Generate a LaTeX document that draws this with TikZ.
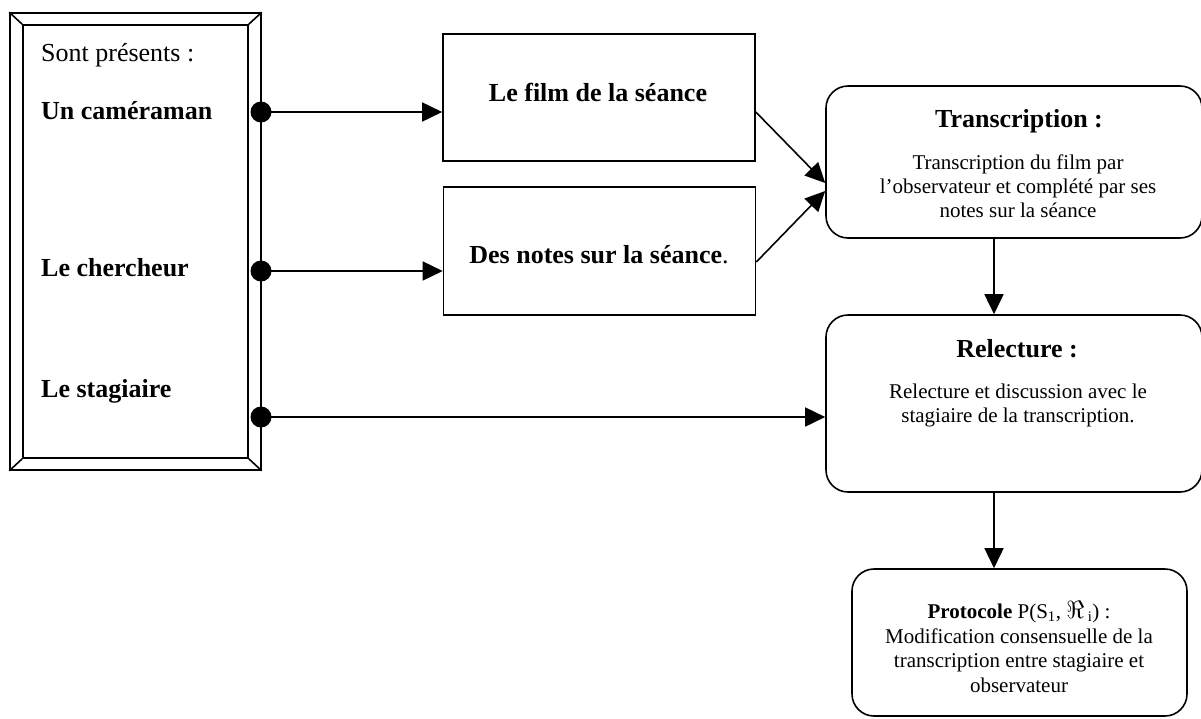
\documentclass[tikz,border=0pt]{standalone}
\usepackage{fontspec}
\setmainfont{Liberation Serif}
\usetikzlibrary{arrows.meta,positioning,calc}

\tikzset{
	cadrebox/.style={draw, line width=1.6pt, inner sep=0pt},
	sqbox/.style={draw, line width=1.6pt, inner sep=0pt, minimum width=312pt, minimum height=127pt},
	rndbox/.style={draw, line width=1.6pt, inner sep=0pt, rounded corners=22pt},
	grostxt/.style={inner sep=0pt, font=\fontsize{26}{30}\selectfont},
	petittxt/.style={inner sep=0pt, align=center, font=\fontsize{21}{24.3}\selectfont},
	fleche/.style={line width=1.6pt, -{Triangle[length=20pt,width=19pt]}},
	point/.style={circle, fill, inner sep=0pt, minimum size=21pt},
}

\begin{document}
\begin{tikzpicture}[x=1pt, y=-1pt]
	\useasboundingbox (0,0) rectangle (1201,718);
	% cadre des personnes presentes
	\node[cadrebox, minimum width=251pt, minimum height=457pt] (cadre) at (135.5,241.5) {};
	\node[cadrebox, minimum width=225pt, minimum height=433pt] (cadrein) at (135.5,241.5) {};
	\draw[line width=1.6pt] (cadre.north west) -- (cadrein.north west);
	\draw[line width=1.6pt] (cadre.north east) -- (cadrein.north east);
	\draw[line width=1.6pt] (cadre.south west) -- (cadrein.south west);
	\draw[line width=1.6pt] (cadre.south east) -- (cadrein.south east);
	\node[grostxt, anchor=base west] (sont) at (41,61) {Sont présents :};
	\node[grostxt, anchor=base west, font=\fontsize{26}{30}\selectfont\bfseries] (camera) at (41,119) {Un caméraman};
	\node[grostxt, anchor=base west, font=\fontsize{26}{30}\selectfont\bfseries] (cherch) at (41,276) {Le chercheur};
	\node[grostxt, anchor=base west, font=\fontsize{26}{30}\selectfont\bfseries] (stag) at (41,397) {Le stagiaire};
	\node[point] (pt1) at (261,112) {};
	\node[point] (pt2) at (261,271) {};
	\node[point] (pt3) at (261,417) {};

	% film et notes
	\node[sqbox] (film) at (599,97.5) {};
	\node[grostxt, anchor=base, font=\fontsize{26}{30}\selectfont\bfseries] (filmtxt) at (598,101) {Le film de la séance};
	\node[sqbox, minimum height=128pt] (notes) at (599.5,251) {};
	\node[grostxt, anchor=base] (notestxt) at (599,263) {\textbf{Des notes sur la séance}.};

	% transcription, relecture, protocole
	\node[rndbox, minimum width=376pt, minimum height=152pt] (trans) at (1014,162) {};
	\node[grostxt, anchor=base, font=\fontsize{26}{30}\selectfont\bfseries] (transtitre) at (1019,127) {Transcription :};
	\node[petittxt, anchor=base] (transtxt) at (1018,217.6) {Transcription du film par\\l’observateur et complété par ses\\notes sur la séance};
	\node[rndbox, minimum width=376pt, minimum height=177pt] (relec) at (1014,403.5) {};
	\node[grostxt, anchor=base, font=\fontsize{26}{30}\selectfont\bfseries] (relectitre) at (1017,357) {Relecture :};
	\node[petittxt, anchor=base] (relectxt) at (1018,422.3) {Relecture et discussion avec le\\stagiaire de la transcription.};
	\node[rndbox, minimum width=335pt, minimum height=147pt] (proto) at (1019.5,642.5) {};
	\node[petittxt, anchor=base] (prototitre) at (1019,618) {\textbf{Protocole} P(S\textsubscript{1}, {\fontsize{27}{30}\selectfont$\Re$}\,\textsubscript{i}) :};
	\node[petittxt, anchor=base] (prototxt) at (1019,692) {Modification consensuelle de la\\transcription entre stagiaire et\\observateur};

	% fleches
	\draw[fleche] (pt1.center) -- (pt1 -| film.west);
	\draw[fleche] (pt2.center) -- (pt2 -| notes.west);
	\draw[fleche] (pt3.center) -- (pt3 -| relec.west);
	\draw[fleche] ([yshift=-14.5pt]film.east) -- ([yshift=-21pt]trans.west);
	\draw[fleche] ([yshift=-11pt]notes.east) -- ([yshift=-29pt]trans.west);
	\draw[fleche] ([xshift=-20pt]trans.south) -- ([xshift=-20pt]trans.south |- relec.north);
	\draw[fleche] ([xshift=-20pt]relec.south) -- ([xshift=-20pt]relec.south |- proto.north);
\end{tikzpicture}
\end{document}
